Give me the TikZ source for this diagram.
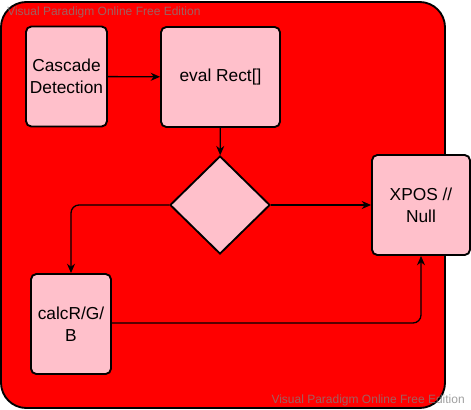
\documentclass[tikz,border=0pt]{standalone}
\usepackage{fontspec}
\setmainfont{Liberation Sans}
\usetikzlibrary{arrows.meta, shapes.geometric}

\begin{document}
\begin{tikzpicture}[x=0.75pt, y=-0.75pt, >={Stealth[length=7pt,width=6pt]},
  box/.style={draw, line width=1.4pt, fill={rgb,255:red,255;green,192;blue,203},
    rounded corners=4pt, align=center, inner sep=0pt,
    font=\fontsize{13}{16.5}\selectfont},
  flow/.style={->, line width=1pt, rounded corners=6pt},
  wmark/.style={text=gray, opacity=0.75, font=\fontsize{9}{10}\selectfont, inner sep=0pt}]
  \useasboundingbox (0,0) rectangle (471,410);
  \draw[line width=1.4pt, fill=red, rounded corners=19pt] (1,2) rectangle (445,408);
  \node[box, minimum width=81*0.75pt, minimum height=100*0.75pt] (cascade) at (66.5,76.5) {Cascade\\Detection};
  \node[box, minimum width=119*0.75pt, minimum height=100*0.75pt] (eval) at (220.5,77) {eval Rect[]};
  \node[box, diamond, rounded corners=0pt, minimum width=100*0.75pt, minimum height=98*0.75pt] (check) at (220,205) {};
  \node[box, minimum width=98*0.75pt, minimum height=100*0.75pt] (xpos) at (421,205) {XPOS //\\Null};
  \node[box, minimum width=80*0.75pt, minimum height=100*0.75pt] (calc) at (71,324) {calcR/G/\\B};
  \draw[flow] (cascade) -- (eval);
  \draw[flow] (eval) -- (check);
  \draw[flow] (check) -- (xpos);
  \draw[flow] (check.west) -| (calc.north);
  \draw[flow] (calc.east |- 0,323) -| (xpos.south);
  \node[wmark, anchor=west] (wmtop) at (7,12) {Visual Paradigm Online Free Edition};
  \node[wmark, anchor=east] (wmbot) at (465,400) {Visual Paradigm Online Free Edition};
\end{tikzpicture}
\end{document}
